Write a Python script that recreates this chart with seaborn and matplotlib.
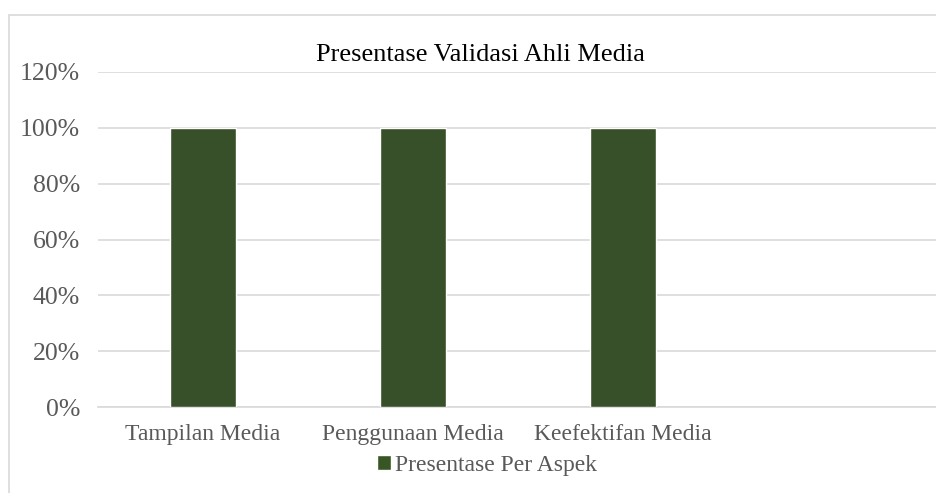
import matplotlib
matplotlib.use("Agg")
import matplotlib.pyplot as plt
import seaborn as sns
import pandas as pd
import numpy as np
from matplotlib.patches import Rectangle
from matplotlib.ticker import FuncFormatter

categories = ["Tampilan Media", "Penggunaan Media", "Keefektifan Media"]
values = [1.00, 1.00, 1.00]
series_name = "Presentase Per Aspek"
title = "Presentase Validasi Ahli Media"
y_ticks = [0.0, 0.2, 0.4, 0.6, 0.8, 1.0, 1.2]

df = pd.DataFrame({"Aspek": categories, "Nilai": values, "Seri": [series_name] * len(categories)})

sns.set_theme(style="white")
plt.rcParams["font.family"] = ["Liberation Serif", "DejaVu Serif"]

W, H = 937, 493
fig = plt.figure(figsize=(W / 100, H / 100), dpi=100)
ax = fig.add_axes([98 / W, 1 - 407 / H, 840 / W, (407 - 72) / H])

sns.barplot(data=df, x="Aspek", y="Nilai", hue="Seri", palette=["#375623"],
            width=0.314, dodge=False, ax=ax, legend=False, zorder=3)

ax.set_xlim(-0.5, 3.5)
ax.set_ylim(0, 1.2)
ax.set_yticks(y_ticks)
ax.yaxis.set_major_formatter(FuncFormatter(lambda v, p: f"{v*100:.0f}%"))
ax.grid(axis="y", color="#d9d9d9", linewidth=1.2, zorder=0)
ax.set_axisbelow(True)
for s in ["top", "right", "left"]:
    ax.spines[s].set_visible(False)
ax.spines["bottom"].set_color("#d9d9d9")
ax.spines["bottom"].set_linewidth(1.2)
ax.tick_params(axis="both", length=0, colors="#595959")
ax.tick_params(axis="y", labelsize=18.5, pad=13)
ax.tick_params(axis="x", labelsize=17, pad=12)
ax.set_xlabel("")
ax.set_ylabel("")

fig.text(480 / W, 1 - 55 / H, title, ha="center", va="center", fontsize=19, color="#000000")

handle = Rectangle((0, 0), 1, 1, facecolor="#375623")
fig.legend([handle], [series_name], loc="center", bbox_to_anchor=(487 / W, 1 - 465 / H),
           frameon=False, fontsize=17, handlelength=0.6, handleheight=0.6,
           handletextpad=0.2, labelcolor="#595959")

fig.patches.append(Rectangle((9 / W, -0.1), 1.2, 1 - 15 / H + 0.1, transform=fig.transFigure,
                             fill=False, edgecolor="#d9d9d9", linewidth=1.2))

fig.savefig("out.png", dpi=100)
